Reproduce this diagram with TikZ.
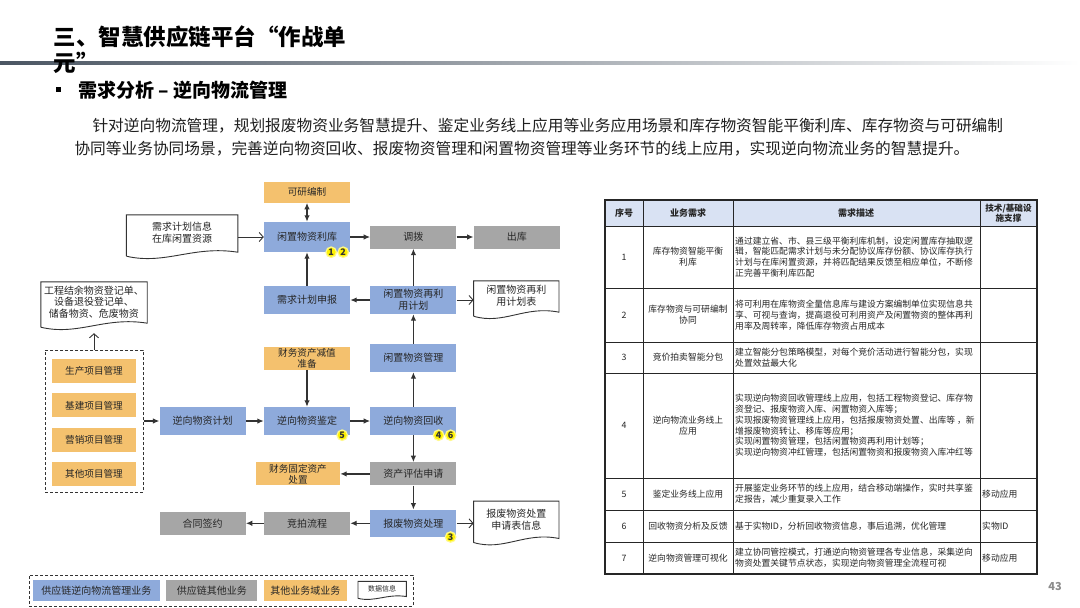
\documentclass[tikz,border=0pt]{standalone}
\usepackage{fontspec}
\setmainfont{Noto Sans CJK SC}
\usepackage{tikz}
\usetikzlibrary{arrows.meta, positioning, calc}

\definecolor{procblue}{HTML}{8EAADB}
\definecolor{extorange}{HTML}{F4C16E}
\definecolor{othgrey}{HTML}{A6A6A6}
\definecolor{hdblue}{HTML}{D9E2F3}
\definecolor{inkgrey}{HTML}{333333}
\definecolor{rulegrey}{HTML}{4B5663}

% document outline round a node, optional wave scale
\newcommand{\docwave}[2][1]{%
  \draw[draw=inkgrey, line width=0.9pt] ([yshift={#1*3pt}]#2.south west) -- (#2.north west) -- (#2.north east) -- ([yshift={#1*7pt}]#2.south east)
    .. controls ($(#2.south west)!0.6!(#2.south east)+(0,{#1*14pt})$) and ($(#2.south west)!0.35!(#2.south east)+(0,{#1*-6pt})$) .. ([yshift={#1*3pt}]#2.south west);}

\begin{document}
\begin{tikzpicture}[x=1pt, y=-1pt,
    box/.style={rectangle, inner sep=1pt, minimum width=86pt, align=center, text=black!85, font=\fontsize{10pt}{12pt}\selectfont},
    proc/.style={box, fill=procblue, minimum height=28pt},
    othr/.style={box, fill=othgrey, minimum height=23pt},
    ext/.style={box, fill=extorange, minimum height=23pt, inner sep=0.5pt, font=\fontsize{9.6pt}{11pt}\selectfont},
    doc/.style={rectangle, inner sep=1pt, align=center, text depth=9pt, text=black!85, font=\fontsize{10pt}{12pt}\selectfont},
    badge/.style={circle, fill=yellow, draw=yellow!45, line width=1.2pt, inner sep=0pt, minimum size=10.5pt, font=\fontsize{9pt}{9pt}\selectfont\bfseries, text=black!80},
    line/.style={draw=inkgrey, line width=1.3pt, -{Latex[length=6.5pt, width=5.5pt]}},
    dline/.style={draw=inkgrey, line width=0.9pt, -{Straight Barb[length=4pt, width=9pt]}},
    cell/.style={inner sep=0pt, text=black!85, font=\fontsize{8.8pt}{10.8pt}\selectfont},
    tline/.style={draw=black!85, line width=0.8pt}
]
    \useasboundingbox (0,0) rectangle (1080,608);
    \fill[white] (0,0) rectangle (1080,608);

    % heading
    \shade[left color=rulegrey, middle color=rulegrey!50, right color=white] (0,61) rectangle (1080,64);
    \node[anchor=west, font=\fontsize{22.5pt}{26pt}\selectfont\bfseries] (ttl) at (50,37) {三、智慧供应链平台“作战单};
    \node[anchor=west, font=\fontsize{22.5pt}{26pt}\selectfont\bfseries] (ttl2) at (50,63) {元”};
    \node[anchor=west, font=\fontsize{19pt}{22pt}\selectfont\bfseries] (sub) at (52,90) {\rule[0.28em]{5pt}{5pt}\hspace{18pt}需求分析 – 逆向物流管理};
    \node[anchor=west, text=black!88, font=\fontsize{15.7pt}{19pt}\selectfont] (p1) at (89,126) {针对逆向物流管理，规划报废物资业务智慧提升、鉴定业务线上应用等业务应用场景和库存物资智能平衡利库、库存物资与可研编制};
    \node[anchor=west, text=black!88, font=\fontsize{15.7pt}{19pt}\selectfont] (p2) at (71,149) {协同等业务协同场景，完善逆向物资回收、报废物资管理和闲置物资管理等业务环节的线上应用，实现逆向物流业务的智慧提升。};

    % flow
    \node[proc, minimum height=30pt] (lk) at (307,237) {闲置物资利库};
    \node[ext, minimum height=21pt, above=19pt of lk] (ky) {可研编制};
    \node[othr, right=20pt of lk] (db) {调拨};
    \node[othr, right=17pt of db] (cq) {出库};
    \node[doc, minimum width=111pt, minimum height=44pt, left=26pt of lk] (xq) {需求计划信息\\在库闲置资源};
    \docwave{xq}

    \node[proc] (sb) at (307,300) {需求计划申报};
    \node[proc, right=20pt of sb] (zy) {闲置物资再利\\用计划};
    \node[doc, minimum width=85pt, minimum height=38pt, right=17pt of zy] (zyb) {闲置物资再利\\用计划表};
    \docwave{zyb}

    \node[ext] (jz) at (307,358) {财务资产减值\\准备};
    \node[proc, right=20pt of jz] (gl) {闲置物资管理};

    \node[proc] (jd) at (307,421) {逆向物资鉴定};
    \node[proc, left=18pt of jd] (jh) {逆向物资计划};
    \node[proc, right=20pt of jd] (hs) {逆向物资回收};

    \node[othr, below=27pt of hs] (zp) {资产评估申请};
    \node[ext, minimum width=84pt, left=30pt of zp] (gd) {财务固定资产\\处置};
    \node[proc, minimum height=27pt, below=24pt of zp] (bf) {报废物资处理};
    \node[othr, left=20pt of bf] (jp) {竞拍流程};
    \node[othr, left=18pt of jp] (ht) {合同签约};
    \node[doc, minimum width=85pt, minimum height=44pt, right=17pt of bf] (bfd) {报废物资处置\\申请表信息};
    \docwave{bfd}

    \node[draw=inkgrey, line width=1pt, dash pattern=on 3pt off 2pt, minimum width=98pt, minimum height=142pt] (grp) at (94,421) {};
    \node[ext, minimum width=84pt, minimum height=24pt] (sc) at (94,371) {生产项目管理};
    \node[ext, minimum width=84pt, minimum height=24pt, below=10pt of sc] (jj) {基建项目管理};
    \node[ext, minimum width=84pt, minimum height=24pt, below=10pt of jj] (yx) {营销项目管理};
    \node[ext, minimum width=84pt, minimum height=24pt, below=10pt of yx] (qt) {其他项目管理};
    \node[doc, minimum width=106pt, minimum height=48pt, font=\fontsize{10pt}{11.6pt}\selectfont] (gc) at (94,306) {工程结余物资登记单、\\设备退役登记单、\\储备物资、危废物资};
    \docwave{gc}

    % numbered marks
    \node[badge] (b1) at ([xshift=-19pt]lk.south east) {1};
    \node[badge] (b2) at ([xshift=-7pt]lk.south east) {2};
    \node[badge] (b5) at ([xshift=-8pt]jd.south east) {5};
    \node[badge] (b4) at ([xshift=-18pt]hs.south east) {4};
    \node[badge] (b6) at ([xshift=-6pt]hs.south east) {6};
    \node[badge] (b3) at ([xshift=-6pt]bf.south east) {3};

    % Connections
    \draw[line, {Latex[length=6.5pt, width=5.5pt]}-{Latex[length=6.5pt, width=5.5pt]}] (ky) -- (lk);
    \draw[dline] (xq) -- (lk);
    \draw[line] (lk) -- (db);
    \draw[line] (db) -- (cq);
    \draw[line] (sb) -- (lk);
    \draw[line] (zy) -- (db);
    \draw[line] (zy) -- (sb);
    \draw[dline] (zy) -- (zyb);
    \draw[line] (gl) -- (zy);
    \draw[line] (hs) -- (gl);
    \draw[line] (jz) -- (jd);
    \draw[line] (grp) -- (jh);
    \draw[dline, shorten >=3pt] (grp) -- (gc);
    \draw[line] (jh) -- (jd);
    \draw[line] (jd) -- (hs);
    \draw[line] (hs) -- (zp);
    \draw[line] (zp) -- (gd);
    \draw[line] (zp) -- (bf);
    \draw[line] (bf) -- (jp);
    \draw[line] (jp) -- (ht);
    \draw[dline] (bf) -- (bfd);

    % legend
    \node[proc, minimum width=127pt, minimum height=21pt] (lg1) at (96.5,590.5) {供应链逆向物流管理业务};
    \node[othr, minimum width=91pt, minimum height=21pt, right=6pt of lg1] (lg2) {供应链其他业务};
    \node[ext, minimum width=83pt, minimum height=21pt, font=\fontsize{10pt}{12pt}\selectfont, right=6pt of lg2] (lg3) {其他业务域业务};
    \node[doc, minimum width=48pt, minimum height=18pt, text depth=4pt, font=\fontsize{7pt}{8pt}\selectfont, right=11pt of lg3] (lg4) {数据信息};
    \docwave[0.45]{lg4}
    \node[draw=inkgrey, line width=1pt, dash pattern=on 3pt off 2pt, minimum width=384pt, minimum height=31pt] (lgbox) at (221,590.5) {};

    % table
    \fill[hdblue] (605,200) rectangle (1037,226);
    \foreach \yy in {226,288,342,373,478,510,542}
        \draw[tline] (605,\yy) -- (1037,\yy);
    \foreach \xx in {643,733,980}
        \draw[tline] (\xx,200) -- (\xx,574);
    \draw[tline, line width=1.2pt] (605,200) rectangle (1037,574);

    \node[cell, font=\fontsize{9pt}{10pt}\selectfont\bfseries] (h1) at (624,213) {序号};
    \node[cell, font=\fontsize{9pt}{10pt}\selectfont\bfseries] (h2) at (688,213) {业务需求};
    \node[cell, font=\fontsize{9pt}{10pt}\selectfont\bfseries] (h3) at (856,213) {需求描述};
    \node[cell, align=center, font=\fontsize{8.6pt}{10pt}\selectfont\bfseries] (h4) at (1008.5,213) {技术/基础设\\施支撑};

    \foreach \r/\yc/\need/\desc/\tech in {
        1/257/{库存物资智能平衡\\利库}/{通过建立省、市、县三级平衡利库机制，设定闲置库存抽取逻\\辑，智能匹配需求计划与未分配协议库存份额、协议库存执行\\计划与在库闲置资源，并将匹配结果反馈至相应单位，不断修\\正完善平衡利库匹配}/{},
        2/315/{库存物资与可研编制\\协同}/{将可利用在库物资全量信息库与建设方案编制单位实现信息共\\享、可视与查询，提高退役可利用资产及闲置物资的整体再利\\用率及周转率，降低库存物资占用成本}/{},
        3/357.5/{竞价拍卖智能分包}/{建立智能分包策略模型，对每个竞价活动进行智能分包，实现\\处置效益最大化}/{},
        4/425.5/{逆向物流业务线上\\应用}/{实现逆向物资回收管理线上应用，包括工程物资登记、库存物\\资登记、报废物资入库、闲置物资入库等；\\实现报废物资管理线上应用，包括报废物资处置、出库等 ，新\\增报废物资转让、移库等应用；\\实现闲置物资管理，包括闲置物资再利用计划等；\\实现逆向物资冲红管理，包括闲置物资和报废物资入库冲红等}/{},
        5/494/{鉴定业务线上应用}/{开展鉴定业务环节的线上应用，结合移动端操作，实时共享鉴\\定报告，减少重复录入工作}/{移动应用},
        6/526/{回收物资分析及反馈}/{基于实物ID，分析回收物资信息，事后追溯，优化管理}/{实物ID},
        7/558/{逆向物资管理可视化}/{建立协同管控模式，打通逆向物资管理各专业信息，采集逆向\\物资处置关键节点状态，实现逆向物资管理全流程可视}/{移动应用}} {
        \node[cell] (no\r) at (624,\yc) {\r};
        \node[cell, align=center] (nd\r) at (688,\yc) {\need};
        \node[cell, align=left, anchor=west] (ds\r) at (735,\yc) {\desc};
        \node[cell, anchor=west] (te\r) at (982,\yc) {\tech};
    }

    \node[text=black!45, font=\fontsize{11pt}{12pt}\selectfont\bfseries] (pnum) at (1055,587) {43};
\end{tikzpicture}
\end{document}
